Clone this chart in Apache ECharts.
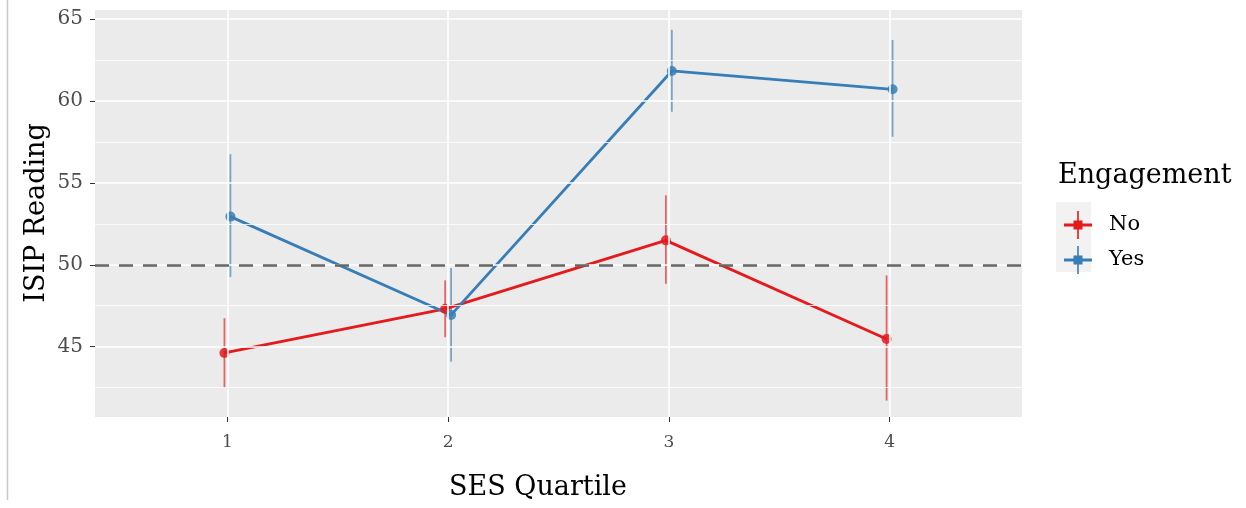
<!DOCTYPE html>
<html>
<head>
<meta charset="utf-8">
<script src="https://cdn.jsdelivr.net/npm/echarts@6/dist/echarts.min.js"></script>
<style>
  html, body { margin: 0; padding: 0; background: #fff; }
  #main { width: 1246px; height: 508px; }
</style>
</head>
<body>
<div id="main"></div>
<script>
// values
const quartiles = [1, 2, 3, 4];
const noMean = [44.62, 47.31, 51.49, 45.47];
const noLow = [42.52, 45.58, 48.84, 41.71];
const noHigh = [46.74, 49.05, 54.24, 49.35];
const yesMean = [52.94, 46.94, 61.83, 60.71];
const yesLow = [49.25, 44.09, 59.34, 57.81];
const yesHigh = [56.75, 49.8, 64.34, 63.72];
const yTicks = [45, 50, 55, 60, 65];
const yMinor = [42.5, 47.5, 52.5, 57.5, 62.5];
const refLine = 50;

const FONT = 'DejaVu Serif';
const RED = '#E41A1C';
const BLUE = '#377EB8';
const dodge = 0.0135;

const noPts = quartiles.map((q, i) => [q - dodge, noMean[i]]);
const yesPts = quartiles.map((q, i) => [q + dodge, yesMean[i]]);
const noErr = quartiles.map((q, i) => [q - dodge, noLow[i], noHigh[i]]);
const yesErr = quartiles.map((q, i) => [q + dodge, yesLow[i], yesHigh[i]]);

const keyIcon = 'path://M0,12.5L28,12.5L28,15.5L0,15.5Z M13.2,0L14.8,0L14.8,28L13.2,28Z M9.5,9.5L18.5,9.5L18.5,18.5L9.5,18.5Z';

function errBar(color) {
  return function (params, api) {
    const a = api.coord([api.value(0), api.value(1)]);
    const b = api.coord([api.value(0), api.value(2)]);
    return {
      type: 'line',
      shape: { x1: a[0], y1: a[1], x2: b[0], y2: b[1] },
      style: { stroke: color, lineWidth: 1.8, opacity: 0.65 }
    };
  };
}

const chart = echarts.init(document.getElementById('main'));
chart.setOption({
  animation: false,
  backgroundColor: '#fff',
  grid: {
    left: 95, top: 10, right: 224, bottom: 91,
    show: true, backgroundColor: '#ebebeb', borderWidth: 0
  },
  xAxis: {
    type: 'value', min: 0.4, max: 4.6,
    axisLine: { show: false },
    splitLine: { show: false },
    axisTick: { show: true, length: 5, lineStyle: { color: '#333', width: 1 }, customValues: quartiles },
    axisLabel: { customValues: quartiles, margin: 17, fontFamily: FONT, fontSize: 17, color: '#4d4d4d' }
  },
  yAxis: {
    type: 'value', min: 40.71, max: 65.55,
    axisLine: { show: false },
    splitLine: { show: false },
    axisTick: { show: true, length: 5, lineStyle: { color: '#333', width: 1 }, customValues: yTicks },
    axisLabel: { customValues: yTicks, margin: 12, fontFamily: FONT, fontSize: 20, color: '#4d4d4d' }
  },
  legend: {
    orient: 'vertical',
    left: 1059, top: 206,
    itemWidth: 28, itemHeight: 28, itemGap: 7,
    textStyle: { fontFamily: FONT, fontSize: 21, color: '#000', padding: [0, 0, 0, 12] },
    data: [
      { name: 'No', icon: keyIcon, itemStyle: { color: RED } },
      { name: 'Yes', icon: keyIcon, itemStyle: { color: BLUE } }
    ]
  },
  graphic: [
    { type: 'line', shape: { x1: 7.5, y1: 0, x2: 7.5, y2: 500 }, style: { stroke: '#c8c8c8', lineWidth: 1.5 } },
    { type: 'rect', z: -1, shape: { x: 1056, y: 202, width: 35, height: 70 }, style: { fill: '#f2f2f2' } },
    { type: 'text', left: 1058, top: 162, style: { text: 'Engagement', font: '27px "DejaVu Serif"', fill: '#000' } },
    { type: 'text', x: 538, y: 488, style: { text: 'SES Quartile', font: '27px "DejaVu Serif"', fill: '#000', align: 'center', verticalAlign: 'middle' } },
    { type: 'text', x: 37, y: 213, rotation: Math.PI / 2, style: { text: 'ISIP Reading', font: '27px "DejaVu Serif"', fill: '#000', align: 'center', verticalAlign: 'middle' } }
  ],
  series: [
    {
      name: 'grid', type: 'line', data: [], z: 0, silent: true,
      markLine: {
        silent: true, symbol: 'none', label: { show: false }, animation: false,
        data: [].concat(
          yMinor.map(v => ({ yAxis: v, lineStyle: { color: '#fff', width: 0.8, type: 'solid' } })),
          yTicks.map(v => ({ yAxis: v, lineStyle: { color: '#fff', width: 1.6, type: 'solid' } })),
          quartiles.map(v => ({ xAxis: v, lineStyle: { color: '#fff', width: 1.6, type: 'solid' } }))
        )
      }
    },
    {
      name: 'ref', type: 'line', data: [], z: 1, silent: true,
      markLine: {
        silent: true, symbol: 'none', label: { show: false }, animation: false,
        data: [{ yAxis: refLine, lineStyle: { color: '#666', width: 2.6, type: [14, 10] } }]
      }
    },
    { name: 'No', type: 'custom', data: noErr, renderItem: errBar(RED), z: 3, encode: { x: 0, y: [1, 2] } },
    { name: 'Yes', type: 'custom', data: yesErr, renderItem: errBar(BLUE), z: 3, encode: { x: 0, y: [1, 2] } },
    {
      name: 'No', type: 'line', data: noPts, z: 4,
      symbol: 'circle', symbolSize: 10, showAllSymbol: true,
      lineStyle: { color: RED, width: 2.8 },
      itemStyle: { color: RED, opacity: 0.85 }
    },
    {
      name: 'Yes', type: 'line', data: yesPts, z: 4,
      symbol: 'circle', symbolSize: 10, showAllSymbol: true,
      lineStyle: { color: BLUE, width: 2.8 },
      itemStyle: { color: BLUE, opacity: 0.85 }
    }
  ]
});
</script>
</body>
</html>
